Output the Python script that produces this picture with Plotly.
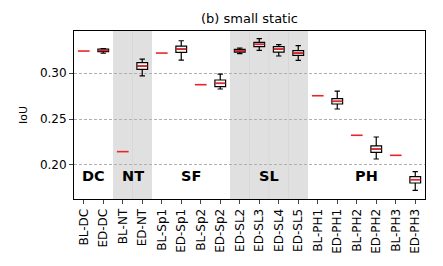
import plotly.graph_objects as go

categories = ["BL-DC", "ED-DC", "BL-NT", "ED-NT", "BL-Sp1", "ED-Sp1", "BL-Sp2", "ED-Sp2",
              "ED-SL2", "ED-SL3", "ED-SL4", "ED-SL5", "BL-PH1", "ED-PH1", "BL-PH2", "ED-PH2",
              "BL-PH3", "ED-PH3"]

# baseline single values (red dash)
bl_names = ["BL-DC", "BL-NT", "BL-Sp1", "BL-Sp2", "BL-PH1", "BL-PH2", "BL-PH3"]
bl_values = [0.3239, 0.2145, 0.3217, 0.2873, 0.2753, 0.2323, 0.2105]

# box stats for ED runs
ed_names = ["ED-DC", "ED-NT", "ED-Sp1", "ED-Sp2", "ED-SL2", "ED-SL3", "ED-SL4", "ED-SL5",
            "ED-PH1", "ED-PH2", "ED-PH3"]
ed_low = [0.3215, 0.2970, 0.3141, 0.2826, 0.3210, 0.3247, 0.3185, 0.3138, 0.2609, 0.2065, 0.1724]
ed_q1 = [0.3232, 0.3040, 0.3225, 0.2851, 0.3228, 0.3286, 0.3228, 0.3192, 0.2663, 0.2138, 0.1804]
ed_med = [0.3245, 0.3076, 0.3260, 0.2888, 0.3243, 0.3312, 0.3260, 0.3217, 0.2692, 0.2174, 0.1840]
ed_q3 = [0.3260, 0.3112, 0.3293, 0.2924, 0.3257, 0.3334, 0.3286, 0.3243, 0.2721, 0.2207, 0.1873]
ed_high = [0.3265, 0.3152, 0.3351, 0.2989, 0.3272, 0.3373, 0.3308, 0.3297, 0.2804, 0.2304, 0.1927]

groups = ["DC", "NT", "SF", "SL", "PH"]
group_centers = [0.5, 2.5, 5.5, 9.5, 14.5]
shaded_groups = [(1.5, 3.5), (7.5, 11.5)]

idx = {c: i for i, c in enumerate(categories)}

fig = go.Figure()

# shading
for a, b in shaded_groups:
    fig.add_shape(type="rect", xref="x", yref="paper", x0=a, x1=b, y0=0, y1=1,
                  fillcolor="#e0e0e0", line_width=0, layer="below")
    k = a + 1
    while k < b:
        fig.add_shape(type="line", xref="x", yref="paper", x0=k, x1=k, y0=0, y1=1,
                      line=dict(color="#d8d8d8", width=1), layer="below")
        k += 1

xs = [idx[n] for n in ed_names]
for i in range(len(ed_names)):
    fig.add_trace(go.Box(x=[xs[i]], q1=[ed_q1[i]], median=[ed_med[i]], q3=[ed_q3[i]],
                         lowerfence=[ed_low[i]], upperfence=[ed_high[i]],
                         width=0.55, whiskerwidth=0.5, fillcolor="white",
                         line=dict(color="black", width=1.2), showlegend=False,
                         hoverinfo="skip"))

# red medians
mx, my = [], []
for i in range(len(ed_names)):
    mx += [xs[i] - 0.27, xs[i] + 0.27, None]
    my += [ed_med[i], ed_med[i], None]
fig.add_trace(go.Scatter(x=mx, y=my, mode="lines", line=dict(color="#e8262a", width=1.6),
                         showlegend=False, hoverinfo="skip"))

# baseline dashes
bx, by = [], []
for n, v in zip(bl_names, bl_values):
    bx += [idx[n] - 0.3, idx[n] + 0.3, None]
    by += [v, v, None]
fig.add_trace(go.Scatter(x=bx, y=by, mode="lines", line=dict(color="#e8262a", width=1.6),
                         showlegend=False, hoverinfo="skip"))

for g, c in zip(groups, group_centers):
    fig.add_annotation(x=c, y=0.1885, text="<b>%s</b>" % g, showarrow=False,
                       font=dict(size=14.5, color="black", family="DejaVu Sans"),
                       xref="x", yref="y")

W, H = 435, 258
fig.update_layout(
    width=W, height=H,
    margin=dict(l=66, r=18, t=23, b=67, autoexpand=False),
    paper_bgcolor="white", plot_bgcolor="white",
    font=dict(family="DejaVu Sans", size=12, color="black"),
    title=dict(text="(b) small static", x=0.5, xref="paper", xanchor="center",
               y=1 - 10 / H, yref="container", yanchor="middle",
               font=dict(size=13)),
)
fig.update_xaxes(range=[-0.5, 17.5], tickmode="array", tickvals=list(range(len(categories))),
                 ticktext=categories, tickangle=-90, ticks="outside", ticklen=4,
                 showgrid=False, showline=True, linecolor="black", mirror=True,
                 zeroline=False, tickfont=dict(size=12), automargin=False)
fig.update_yaxes(range=[0.163, 0.3457], tickvals=[0.20, 0.25, 0.30],
                 ticktext=["0.20", "0.25", "0.30"], ticks="outside", ticklen=4,
                 showgrid=True, gridcolor="#b0b0b0", griddash="3px,2px", gridwidth=0.8,
                 showline=True, linecolor="black", mirror=True, zeroline=False,
                 title=dict(text="IoU", standoff=10, font=dict(size=11)),
                 tickfont=dict(size=12), automargin=False)

fig.write_html("out.html")
